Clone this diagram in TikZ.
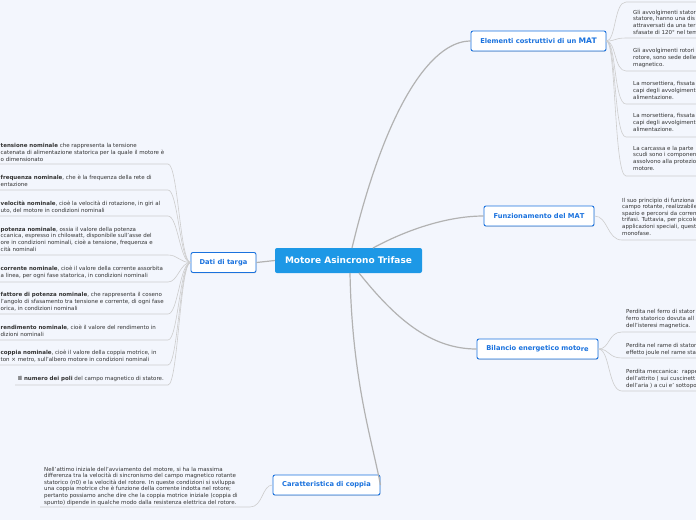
\documentclass[tikz,border=0pt]{standalone}
\usepackage{fontspec}
\setmainfont{DejaVu Sans}
\usetikzlibrary{shadows}
\definecolor{bg}{HTML}{F3F6FD}
\definecolor{mainblue}{HTML}{1D98E6}
\definecolor{nodeblue}{HTML}{1A72DE}
\definecolor{conn}{HTML}{B2B2B2}
\definecolor{leafline}{HTML}{CDCDCD}
\definecolor{leaftext}{HTML}{333333}
\tikzset{
  centernode/.style={fill=mainblue, rounded corners=2pt, text=white,
    font=\bfseries\fontsize{9}{10}\selectfont, minimum width=147pt, minimum height=25pt, inner sep=0},
  branch/.style={draw=nodeblue, line width=0.9pt, fill=white, rounded corners=2pt, text=nodeblue,
    font=\bfseries\fontsize{6.7}{8}\selectfont, minimum height=20pt, inner sep=0,
    drop shadow={shadow xshift=0.4pt, shadow yshift=-0.8pt, opacity=0.25}},
  leaf/.style={anchor=base west, align=left, inner sep=0, text=leaftext,
    font=\fontsize{5.5}{6.6}\selectfont},
  mainconn/.style={draw=conn, line width=1.2pt},
  leafconn/.style={draw=leafline, line width=0.6pt},
}
\begin{document}
\begin{tikzpicture}[x=1pt, y=-1pt]
\fill[bg] (0,0) rectangle (696,520);
\useasboundingbox (0,0) rectangle (696,520);
\clip (0,0) rectangle (696,520);

% central and branch nodes
\node[centernode] (c) at (348.5,260.5) {Motore Asincrono Trifase};
\node[branch, minimum width=135pt] (elem) at (538.5,41) {Elementi costruttivi di un {\fontsize{7.6}{8}\selectfont\raisebox{-0.6pt}{MAT}}};
\node[branch, minimum width=110pt] (funz) at (539,216) {Funzionamento del MA\raisebox{-0.8pt}{T}};
\node[branch, minimum width=121pt] (bil) at (537.5,349) {Bilancio energetico moto\raisebox{-0.6pt}{re}};
\node[branch, minimum width=65pt] (dati) at (223.5,262.5) {Dati di targa};
\node[branch, minimum width=107pt] (car) at (326.5,485) {Caratteristica di coppia};

% main connectors
\draw[mainconn] (352,248) .. controls (385,110) and (430,41) .. (elem.west);
\draw[mainconn] (373,248) .. controls (410,228) and (450,216) .. (funz.west);
\draw[mainconn] (359,273) .. controls (395,318) and (430,349) .. (bil.west);
\draw[mainconn] (350,273) .. controls (352,380) and (372,440) .. (car.east);
\draw[mainconn] (c.west) -- (dati.east);

% ---------- left leaves (Dati di targa); base = last line
\node[leaf] (l1) at (0.5,161) {\textbf{tensione nominale} che rappresenta la tensione\\catenata di alimentazione statorica per la quale il motore è\\o dimensionato};
\node[leaf] (l2) at (0.5,186) {\textbf{frequenza nominale}, che è la frequenza della rete di\\entazione};
\node[leaf] (l3) at (0.5,212) {\textbf{velocità nominale}, cioè la velocità di rotazione, in giri al\\uto, del motore in condizioni nominali};
\node[leaf] (l4) at (0.5,251) {\textbf{potenza nominale}, ossia il valore della potenza\\ccanica, espresso in chilowatt, disponibile sull'asse del\\ore in condizioni nominali, cioè a tensione, frequenza e\\cità nominali};
\node[leaf] (l5) at (0.5,277) {\textbf{corrente nominale}, cioè il valore della corrente assorbita\\a linea, per ogni fase statorica, in condizioni nominali};
\node[leaf] (l6) at (0.5,310) {\textbf{fattore di potenza nominale}, che rappresenta il coseno\\l'angolo di sfasamento tra tensione e corrente, di ogni fase\\orica, in condizioni nominali};
\node[leaf] (l7) at (0.5,336) {\textbf{rendimento nominale}, cioè il valore del rendimento in\\dizioni nominali};
\node[leaf] (l8) at (0.5,361) {\textbf{coppia nominale}, cioè il valore della coppia motrice, in\\ton × metro, sull'albero motore in condizioni nominali};
\node[leaf] (l9) at (18,380) {\textbf{Il numero dei poli} del campo magnetico di statore.};

\foreach \yy/\xs in {164/0,190/0,216/0,255/0,282/0,314/0,340/0,365/0,385/15}{
  \draw[leafconn] (dati.west) .. controls (180,262.5) and (178,\yy) .. (168,\yy) -- (\xs,\yy);
}

% ---------- right leaves (Elementi costruttivi)
\node[leaf] (r2) at (633,34) {Gli avvolgimenti stator\\statore, hanno una dis\\attraversati da una ter\\sfasate di 120° nel tem};
\node[leaf] (r3) at (633,66) {Gli avvolgimenti rotori\\rotore, sono sede delle\\magnetico.};
\node[leaf] (r4) at (633,99) {La morsettiera, fissata\\capi degli avvolgimenti\\alimentazione.};
\node[leaf] (r5) at (633,131) {La morsettiera, fissata\\capi degli avvolgimenti\\alimentazione.};
\node[leaf] (r6) at (633,170) {La carcassa e la parte\\scudi sono i componen\\assolvono alla protezio\\motore.};
\foreach \yy in {2,38,71,104,137,176}{
  \draw[leafconn] (elem.east) .. controls (616,41) and (614,\yy) .. (626,\yy) -- (700,\yy);
}

% ---------- Funzionamento
\node[leaf] (f1) at (622,235) {Il suo principio di funziona\\campo rotante, realizzabile\\spazio e percorsi da corren\\trifasi. Tuttavia, per piccole\\applicazioni speciali, quest\\monofase.};
\draw[leafconn] (funz.east) .. controls (608,216) and (607,240) .. (622,240) -- (700,240);

% ---------- Bilancio
\node[leaf] (b1) at (626,327) {Perdita nel ferro di stator\\ferro statorico dovuta all\\dell'isteresi magnetica.};
\node[leaf] (b2) at (626,354) {Perdita nel rame di stator\\effetto joule nel rame sta};
\node[leaf] (b3) at (626,387) {Perdita meccanica:\ \ rappe\\dell'attrito ( sui cuscinett\\dell'aria ) a cui e' sottopo};
\foreach \yy in {332,358,391}{
  \draw[leafconn] (bil.east) .. controls (610,349) and (608,\yy) .. (622,\yy) -- (700,\yy);
}

% ---------- Caratteristica
\node[leaf] (k1) at (44,504) {Nell'attimo iniziale dell'avviamento del motore, si ha la massima\\differenza tra la velocità di sincronismo del campo magnetico rotante\\statorico (n0) e la velocità del rotore. In queste condizioni si sviluppa\\una coppia motrice che è funzione della corrente indotta nel rotore;\\pertanto possiamo anche dire che la coppia motrice iniziale (coppia di\\spunto) dipende in qualche modo dalla resistenza elettrica del rotore.};
\draw[leafconn] (car.west) .. controls (262,485) and (263,507) .. (250,507) -- (40,507);
\end{tikzpicture}
\end{document}
